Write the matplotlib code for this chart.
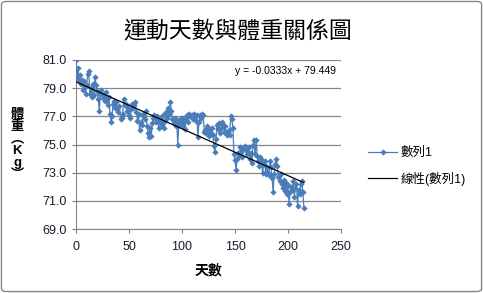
import numpy as np
import matplotlib
matplotlib.use("Agg")
import matplotlib.pyplot as plt
from matplotlib.patches import FancyBboxPatch

plt.rcParams['font.family'] = ['Liberation Sans', 'Noto Sans CJK TC', 'DejaVu Sans']

# 體重紀錄 (kg), 第 0 天起每天一筆
weight = [
    81.0, 79.8, 80.4, 79.6, 79.9, 79.3, 79.6, 78.9, 79.5, 78.6,
    79.2, 80.0, 80.2, 78.6, 79.0, 78.4, 79.3, 78.5, 79.8, 79.2,
    78.8, 78.2, 77.4, 78.6, 78.9, 78.3, 78.6, 78.1, 78.7, 78.2,
    77.8, 78.4, 77.2, 76.6, 77.0, 77.9, 78.1, 77.6, 78.0, 77.5,
    77.3, 77.7, 76.8, 76.9, 77.2, 78.2, 77.8, 77.9, 77.4, 77.6,
    77.1, 76.9, 77.5, 77.9, 77.6, 77.8, 78.0, 77.3, 76.7, 77.2,
    76.0, 76.6, 76.4, 77.2, 77.0, 76.8, 77.4, 76.3, 75.8, 75.5,
    76.2, 75.6, 76.5, 76.9, 77.1, 76.6, 77.0, 76.8, 76.2, 76.9,
    76.5, 76.4, 77.1, 76.2, 76.7, 77.3, 76.9, 77.6, 77.2, 78.0,
    77.4, 76.8, 76.5, 76.9, 76.3, 76.7, 75.0, 76.4, 76.8, 76.6,
    76.9, 76.3, 76.7, 76.1, 76.9, 77.1, 76.6, 77.2, 77.0, 77.1,
    76.8, 77.2, 77.0, 76.7, 77.1, 75.5, 76.6, 77.1, 76.9, 77.2,
    77.1, 75.9, 76.0, 75.8, 76.3, 75.6, 76.1, 75.8, 76.2, 75.7,
    74.9, 74.5, 75.4, 76.4, 76.1, 76.5, 75.8, 76.2, 76.6, 76.4,
    75.9, 76.3, 75.7, 75.9, 76.0, 75.7, 77.0, 76.8, 76.2, 74.3,
    73.9, 73.2, 74.0, 74.4, 74.2, 74.8, 74.5, 74.1, 74.7, 74.9,
    74.6, 74.3, 74.5, 74.8, 74.0, 74.4, 73.7, 75.0, 75.3, 74.3,
    75.3, 74.2, 73.8, 73.5, 74.1, 73.9, 73.0, 73.6, 73.8, 72.9,
    73.4, 73.0, 72.8, 73.8, 73.4, 72.6, 71.6, 72.9, 73.6, 74.0,
    73.5, 72.7, 72.4, 72.9, 72.2, 71.9, 72.5, 71.7, 72.3, 71.5,
    72.1, 70.8, 71.6, 72.0, 71.8, 72.4, 71.3, 71.9, 72.2, 70.6,
    71.8, 71.5, 72.2, 72.4, 71.6, 70.5,
]
days = list(range(len(weight)))

# 線性趨勢線係數 (圖上顯示)
slope = -0.0333
intercept = 79.449

fig = plt.figure(figsize=(4.83, 2.93), dpi=100)
ax = fig.add_axes([76 / 483, 1 - 229 / 293, 265 / 483, 169 / 293])

blue = '#4A7EBB'
ax.plot(days, weight, color=blue, linewidth=0.9, marker='D', markersize=3.2,
        markeredgewidth=0, label='數列1', zorder=3)
tx = np.array([days[0], days[-1]])
ax.plot(tx, slope * tx + intercept, color='black', linewidth=0.9,
        label='線性(數列1)', zorder=4)

ax.set_xlim(0, 250)
ax.set_ylim(69, 81)
ax.set_xticks(range(0, 251, 50))
ax.set_yticks(np.arange(69, 81.1, 2))
ax.set_yticklabels([f'{v:.1f}' for v in np.arange(69, 81.1, 2)])
ax.tick_params(labelsize=9, colors='#7f7f7f', labelcolor='#1a1a2e', length=3,
               direction='out', width=0.8)
ax.tick_params(axis='x', pad=6)
ax.grid(axis='y', color='#868686', linewidth=0.9)
ax.set_axisbelow(True)
for s in ['top', 'right']:
    ax.spines[s].set_visible(False)
for s in ['left', 'bottom']:
    ax.spines[s].set_color('#868686')

ax.text(0.98, 0.935, 'y = -0.0333x + 79.449', transform=ax.transAxes,
        ha='right', va='center', fontsize=7.5)

fig.text(238 / 483, 1 - 31 / 293, '運動天數與體重關係圖', ha='center', va='center',
         fontsize=16.5)
fig.text(208 / 483, 1 - 271 / 293, '天數', ha='center', va='center',
         fontsize=10, fontweight='bold')
fig.text(17 / 483, 1 - 145 / 293, '體\n重\n︵\nK\ng\n︶', ha='center', va='center',
         fontsize=9.5, fontweight='bold', linespacing=1.0)

ax.legend(loc='center left', bbox_to_anchor=(1.06, 0.37), frameon=False,
          fontsize=9, handlelength=2.3, labelspacing=1.0, handletextpad=0.3)

border = FancyBboxPatch((0.003, 0.005), 0.994, 0.99, boxstyle='round,pad=0,rounding_size=0.01',
                        transform=fig.transFigure, fill=False, edgecolor='#868686',
                        linewidth=1.0)
fig.patches.append(border)

fig.savefig('out.png', dpi=100)
